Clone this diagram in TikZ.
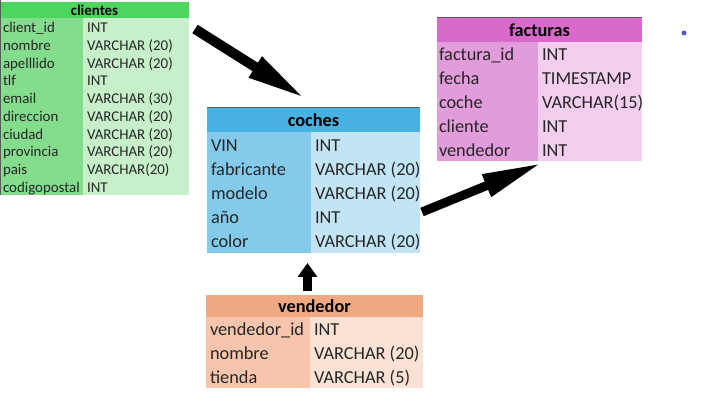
\documentclass[tikz,border=0pt]{standalone}
\usepackage{fontspec}
\setmainfont{Carlito}
\usepackage{xcolor}
\definecolor{CliCab}{RGB}{76,214,94}
\definecolor{CliClave}{RGB}{131,221,140}
\definecolor{CliTipo}{RGB}{198,239,202}
\definecolor{CocCab}{RGB}{71,178,226}
\definecolor{CocClave}{RGB}{132,203,235}
\definecolor{CocTipo}{RGB}{193,229,245}
\definecolor{FacCab}{RGB}{217,106,204}
\definecolor{FacClave}{RGB}{226,156,219}
\definecolor{FacTipo}{RGB}{243,206,238}
\definecolor{VenCab}{RGB}{241,169,132}
\definecolor{VenClave}{RGB}{246,197,172}
\definecolor{VenTipo}{RGB}{251,226,213}
\definecolor{Borde}{RGB}{90,90,90}
\definecolor{Punto}{RGB}{80,90,200}
\usepackage{tikz}
\usetikzlibrary{positioning, arrows.meta}

\tikzset{
	celda/.style={draw=none, inner sep=0pt, outer sep=0pt, anchor=north west},
	texto/.style={anchor=base west, inner sep=0pt, outer sep=0pt, text=black!85},
	chica/.style={font=\fontsize{14.9}{16}\selectfont},
	grande/.style={font=\fontsize{18.3}{20}\selectfont},
	flecha/.style={line width=10pt, -{Triangle[length=60pt,width=22pt]}},
}

\begin{document}
\begin{tikzpicture}[x=1pt, y=-1pt]
			\fill[white] (0,0) rectangle (710,403);
			\useasboundingbox (0,0) rectangle (710,403);
			% Tabla clientes
			\node[celda, fill=CliCab, minimum width=189pt, minimum height=16pt, font=\fontsize{14.9}{16}\selectfont\bfseries] (clientes) at (0,2) {clientes};
			\node[celda, fill=CliClave, minimum width=83pt, minimum height=177pt] (cli-clave) at (clientes.south west) {};
			\node[celda, fill=CliTipo, minimum width=106pt, minimum height=177pt] (cli-tipo) at (cli-clave.north east) {};
			% linea base = centro de la fila + media altura de mayusculas
			\foreach \campo/\tipo [count=\i] in {client\_id/INT, nombre/{VARCHAR (20)}, apelllido/{VARCHAR (20)}, tlf/INT, email/{VARCHAR (30)}, direccion/{VARCHAR (20)}, ciudad/{VARCHAR (20)}, provincia/{VARCHAR (20)}, pais/{VARCHAR(20)}, codigopostal/INT} {
				\node[texto, chica] (cli-c\i) at ([xshift=3pt, yshift={-(\i-0.5)*17.7pt-6pt}]cli-clave.north west) {\campo};
				\node[texto, chica] (cli-t\i) at ([xshift=4pt, yshift={-(\i-0.5)*17.7pt-6pt}]cli-tipo.north west) {\tipo};
			}
			\draw[Borde, line width=1pt] (0.5,0) -- (0.5,195);
			% Tabla coches
			\node[celda, fill=CocCab, minimum width=213pt, minimum height=24pt, font=\fontsize{18.3}{20}\selectfont\bfseries] (coches) at (207,108) {coches};
			\node[celda, fill=CocClave, minimum width=104pt, minimum height=121pt] (coc-clave) at (coches.south west) {};
			\node[celda, fill=CocTipo, minimum width=109pt, minimum height=121pt] (coc-tipo) at (coc-clave.north east) {};
			\foreach \campo/\tipo [count=\i] in {VIN/INT, fabricante/{VARCHAR (20)}, modelo/{VARCHAR (20)}, año/INT, color/{VARCHAR (20)}} {
				\node[texto, grande] (coc-c\i) at ([xshift=4pt, yshift={-(\i-0.5)*24.2pt-7pt}]coc-clave.north west) {\campo};
				\node[texto, grande] (coc-t\i) at ([xshift=4pt, yshift={-(\i-0.5)*24.2pt-7pt}]coc-tipo.north west) {\tipo};
			}
			\draw[Borde, line width=1pt] (coches.north west) -- (coches.north east);
			% Tabla facturas
			\node[celda, fill=FacCab, minimum width=205pt, minimum height=24pt, font=\fontsize{18.3}{20}\selectfont\bfseries] (facturas) at (437,18) {facturas};
			\node[celda, fill=FacClave, minimum width=101pt, minimum height=119pt] (fac-clave) at (facturas.south west) {};
			\node[celda, fill=FacTipo, minimum width=104pt, minimum height=119pt] (fac-tipo) at (fac-clave.north east) {};
			\foreach \campo/\tipo [count=\i] in {factura\_id/INT, fecha/TIMESTAMP, coche/{VARCHAR(15)}, cliente/INT, vendedor/INT} {
				\node[texto, grande] (fac-c\i) at ([xshift=2pt, yshift={-(\i-0.5)*23.8pt-7pt}]fac-clave.north west) {\campo};
				\node[texto, grande] (fac-t\i) at ([xshift=4pt, yshift={-(\i-0.5)*23.8pt-7pt}]fac-tipo.north west) {\tipo};
			}
			\draw[Borde, line width=1pt] (facturas.north west) -- (facturas.north east);
			% Tabla vendedor
			\node[celda, fill=VenCab, minimum width=217pt, minimum height=22pt, font=\fontsize{18.3}{20}\selectfont\bfseries] (vendedor) at (206,295) {vendedor};
			\node[celda, fill=VenClave, minimum width=104pt, minimum height=71pt] (ven-clave) at (vendedor.south west) {};
			\node[celda, fill=VenTipo, minimum width=113pt, minimum height=71pt] (ven-tipo) at (ven-clave.north east) {};
			\foreach \campo/\tipo [count=\i] in {vendedor\_id/INT, nombre/{VARCHAR (20)}, tienda/{VARCHAR (5)}} {
				\node[texto, grande] (ven-c\i) at ([xshift=4pt, yshift={-(\i-0.5)*23.7pt-7pt}]ven-clave.north west) {\campo};
				\node[texto, grande] (ven-t\i) at ([xshift=4pt, yshift={-(\i-0.5)*23.7pt-7pt}]ven-tipo.north west) {\tipo};
			}
			% Flechas
			\draw[flecha] ([shift={(6pt,-11pt)}]cli-tipo.north east) -- ([shift={(-7.5pt,9pt)}]coches.north);
			\draw[flecha, line width=9pt] ([shift={(2pt,-80pt)}]coc-tipo.north east) -- ([shift={(4pt,-2pt)}]fac-tipo.south west);
			\draw[line width=9pt, -{Triangle[length=14pt,width=19pt]}] ([shift={(-7pt,4pt)}]vendedor.north) -- ([shift={(-3.5pt,-10pt)}]coc-clave.south east);
			% Punto
			\fill[Punto] (684,33) circle (2.5pt);
			\end{tikzpicture}
\end{document}
